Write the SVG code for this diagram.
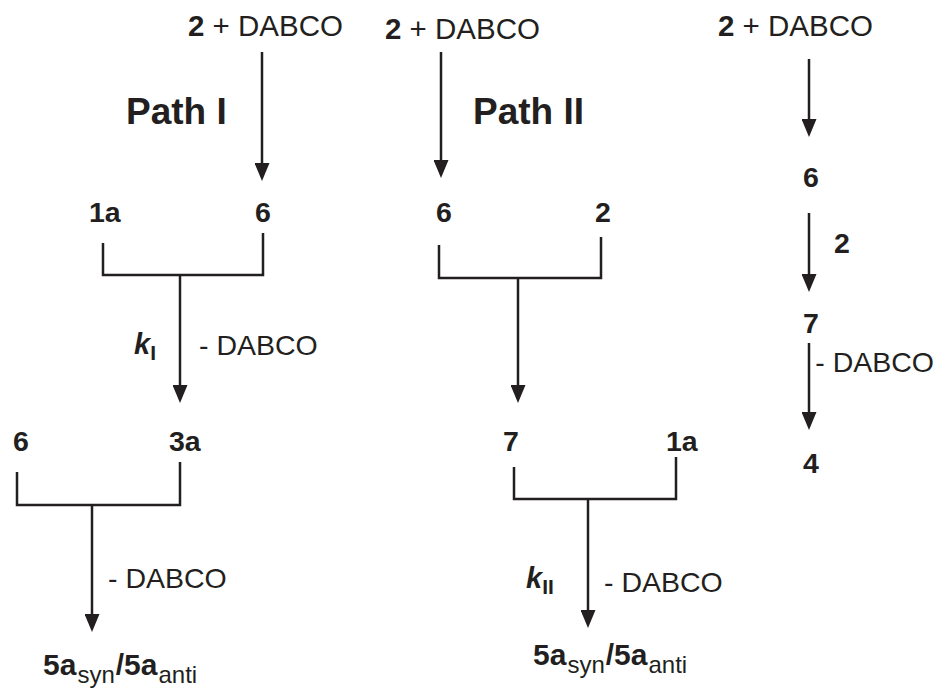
<svg xmlns="http://www.w3.org/2000/svg" width="936" height="689" viewBox="0 0 936 689">
<defs>
<marker id="ah" viewBox="0 0 18 15" refX="10" refY="7.5" markerWidth="18" markerHeight="15" markerUnits="userSpaceOnUse" orient="auto">
<path d="M0,0 L18,7.5 L0,15 z" fill="#231f20"/>
</marker>
<style>
text{font-family:"Liberation Sans",Arial,sans-serif;fill:#231f20;font-size:28.5px}
.t{font-size:29.5px}
.b{font-weight:bold}
.p{font-weight:bold;font-size:37px}
.k{font-weight:bold;font-style:italic;font-size:29px}
.s{font-size:24px}
.ln{stroke:#231f20;stroke-width:2.5;fill:none}
.ar{stroke:#231f20;stroke-width:2.5;fill:none;marker-end:url(#ah)}
</style>
</defs>
<rect width="936" height="689" fill="#fff"/>
<g id="connectors">
<line class="ar" x1="262" y1="52" x2="262" y2="173"/>
<line class="ar" x1="441" y1="52" x2="441" y2="170"/>
<line class="ar" x1="809" y1="59" x2="809" y2="129"/>
<line class="ar" x1="809" y1="213" x2="809" y2="284"/>
<line class="ar" x1="809" y1="343" x2="809" y2="422"/>
<path class="ln" d="M103,243 V275 H263 V233"/>
<line class="ar" x1="180" y1="275" x2="180" y2="395"/>
<path class="ln" d="M439,245 V278 H601 V237"/>
<line class="ar" x1="518" y1="278" x2="518" y2="395"/>
<path class="ln" d="M17,472 V505 H180 V462"/>
<line class="ar" x1="92" y1="505" x2="92" y2="624"/>
<path class="ln" d="M514,467 V499 H676 V457"/>
<line class="ar" x1="588" y1="499" x2="588" y2="620"/>
</g>
<g id="n-top1"><text class="t" x="188" y="36"><tspan class="b">2</tspan> + DABCO</text></g>
<g id="n-top2"><text class="t" x="385" y="39"><tspan class="b">2</tspan> + DABCO</text></g>
<g id="n-top3"><text class="t" x="718" y="36"><tspan class="b">2</tspan> + DABCO</text></g>
<g id="lbl-path1"><text class="p" x="126" y="124">Path I</text></g>
<g id="lbl-path2"><text class="p" x="473" y="124">Path II</text></g>
<g id="n-1a-p1"><text class="b" x="89" y="222">1a</text></g>
<g id="n-6-p1"><text class="b" x="255" y="222">6</text></g>
<g id="n-6-p2"><text class="b" x="436" y="222">6</text></g>
<g id="n-2-p2"><text class="b" x="595" y="222">2</text></g>
<g id="n-6-r"><text class="b" x="803" y="187">6</text></g>
<g id="lbl-2-r"><text class="b" x="834" y="253">2</text></g>
<g id="n-7-r"><text class="b" x="803" y="333">7</text></g>
<g id="lbl-dabco-r"><text x="934" y="372" text-anchor="end" font-size="27.5">- DABCO</text></g>
<g id="n-4-r"><text class="b" x="803" y="473">4</text></g>
<g id="lbl-k1"><text x="134" y="354"><tspan class="k">k</tspan><tspan class="b" font-size="21" dy="6">I</tspan></text></g>
<g id="lbl-dabco-p1"><text x="199" y="355">- DABCO</text></g>
<g id="n-6-p1b"><text class="b" x="13" y="451">6</text></g>
<g id="n-3a"><text class="b" x="169" y="451">3a</text></g>
<g id="n-7-p2"><text class="b" x="503" y="451">7</text></g>
<g id="n-1a-p2"><text class="b" x="666" y="451">1a</text></g>
<g id="lbl-dabco-p1b"><text x="108" y="588">- DABCO</text></g>
<g id="lbl-k2"><text x="526" y="588"><tspan class="k">k</tspan><tspan class="b" font-size="21" dy="6">II</tspan></text></g>
<g id="lbl-dabco-p2b"><text x="604" y="592">- DABCO</text></g>
<g id="n-5a-p1"><text x="43" y="675"><tspan class="b" font-size="30">5a</tspan><tspan class="s" dx="1" dy="8">syn</tspan><tspan class="b" font-size="30" dx="1" dy="-8">/5a</tspan><tspan class="s" dx="1" dy="8">anti</tspan></text></g>
<g id="n-5a-p2"><text x="533" y="665"><tspan class="b" font-size="30">5a</tspan><tspan class="s" dx="1" dy="8">syn</tspan><tspan class="b" font-size="30" dx="1" dy="-8">/5a</tspan><tspan class="s" dx="1" dy="8">anti</tspan></text></g>
</svg>
